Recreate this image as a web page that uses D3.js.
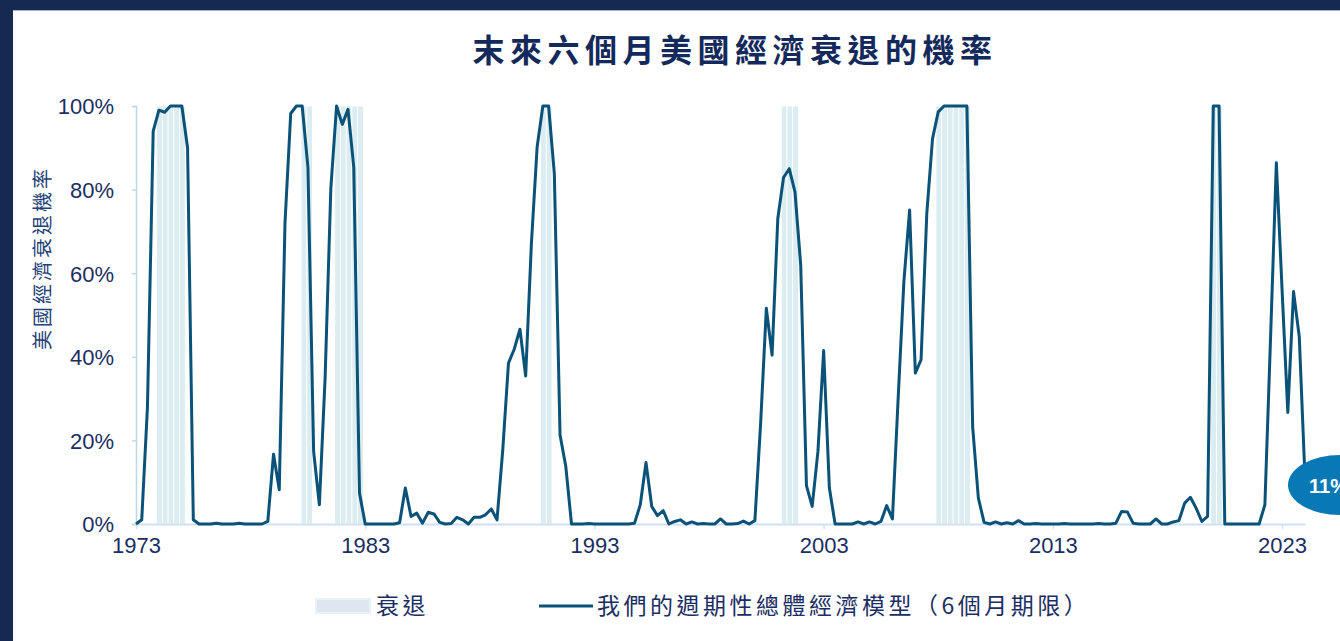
<!DOCTYPE html>
<html>
<head>
<meta charset="utf-8">
<script src="https://cdn.jsdelivr.net/npm/d3@7"></script>
<style>
  html, body { margin: 0; padding: 0; background: #142a53; }
  #chart { width: 1340px; height: 641px; }
  text { font-family: "Liberation Sans", Arial, "Noto Sans CJK TC", sans-serif; }
  .cjk { font-family: "Noto Sans CJK TC", "Noto Sans CJK SC", sans-serif; }
</style>
</head>
<body>
<div id="chart"></div>
<script>
// quarterly model readings, 1973Q1 .. 2024Q1 (percent)
const startYear = 1973;
const probValues = [
  0, 1, 28, 94, 99, 98.5, 100, 100, 100, 90, 1, 0,
  0, 0, 0.2, 0, 0, 0, 0.2, 0, 0, 0, 0, 0.6,
  16.7, 8.2, 72, 98.2, 100, 100, 85.4, 17.3, 4.6, 34.9, 80.3, 100,
  95.6, 99.2, 85.4, 7.4, 0, 0, 0, 0, 0, 0, 0.3, 8.6,
  1.8, 2.6, 0.2, 2.8, 2.4, 0.4, 0, 0.1, 1.6, 1.0, 0, 1.6,
  1.6, 2.2, 3.6, 1.0, 17.7, 38.5, 41.8, 46.6, 35.4, 67.1, 90.2, 100,
  100, 83.9, 21.3, 13.8, 0, 0, 0, 0.1, 0, 0, 0, 0,
  0, 0, 0, 0.2, 4.6, 14.7, 4.2, 2.0, 3.2, 0, 0.6, 1,
  0, 0.5, 0, 0.1, 0, 0, 1.2, 0, 0, 0.1, 0.7, 0,
  0.8, 24, 51.6, 40.4, 73.1, 82.9, 85.0, 79.4, 61.9, 9.2, 4.2, 17.3,
  41.5, 8.6, 0, 0, 0, 0, 0.5, 0, 0.5, 0, 0.6, 4.4,
  1.2, 30, 58, 75.1, 36.1, 39.3, 74.3, 92.2, 98.6, 100, 100, 100,
  100, 100, 23.3, 6.2, 0.4, 0, 0.5, 0, 0.3, 0, 0.8, 0,
  0, 0.1, 0, 0, 0, 0, 0.1, 0, 0, 0, 0, 0,
  0.1, 0, 0, 0.2, 3.0, 2.9, 0.2, 0, 0, 0, 1.2, 0,
  0, 0.5, 0.8, 5.0, 6.4, 3.8, 0.6, 1.8, 100, 100, 0, 0,
  0, 0, 0, 0, 0, 4.6, 45, 86.4, 56, 26.7, 55.6, 44.8,
  11
];

// recession shading: start (decimal year) and number of quarter stripes
const recessionStarts = [1973.9, 1980.2, 1981.67, 1990.65, 2001.15, 2007.9, 2019.89];
const recessionQuarters = [5, 2, 5, 2, 3, 6, 2];

const yTicks = [0, 20, 40, 60, 80, 100];
const xTicks = [1973, 1983, 1993, 2003, 2013, 2023];

const titleText = '末來六個月美國經濟衰退的機率';
const yTitle = '美國經濟衰退機率';
const legendRecession = '衰退';
const legendModel = '我們的週期性總體經濟模型（6個月期限）';
const lastLabel = '11%';

document.addEventListener('DOMContentLoaded', () => {
    const width = 1340, height = 641;
    const navy = '#1b2e63';
    const lineColor = '#0b5279';

    const svg = d3.select('#chart').append('svg')
        .attr('width', width)
        .attr('height', height);

    // frame
    svg.append('rect').attr('width', width).attr('height', height).attr('fill', '#142a53');
    svg.append('rect').attr('x', 13).attr('y', 10).attr('width', width - 13).attr('height', height - 10).attr('fill', '#ffffff');
    svg.append('line').attr('x1', 13).attr('x2', width).attr('y1', 10.5).attr('y2', 10.5)
        .attr('stroke', '#a9b1c2').attr('stroke-width', 1);

    const x = d3.scaleLinear().domain([1973, 2024]).range([136, 1305]);
    const y = d3.scaleLinear().domain([0, 100]).range([524, 106]);

    const data = probValues.map((v, i) => ({ date: startYear + i / 4, value: v }));

    // recession stripes
    const stripes = [];
    recessionStarts.forEach((s, k) => {
        for (let q = 0; q < recessionQuarters[k]; q++) {
            stripes.push({ start: s + q / 4, end: s + (q + 1) / 4 });
        }
    });

    svg.append('g')
        .selectAll('rect')
        .data(stripes)
        .join('rect')
        .attr('x', d => x(d.start))
        .attr('y', y(100))
        .attr('width', d => x(d.end) - x(d.start))
        .attr('height', y(0) - y(100))
        .attr('fill', '#dcedf1')
        .attr('stroke', '#ffffff')
        .attr('stroke-width', 0.8);

    // y axis
    const yAxis = svg.append('g')
        .attr('transform', `translate(${x(1973)},0)`)
        .call(d3.axisLeft(y).tickValues(yTicks).tickFormat(d => d + '%').tickSize(4).tickPadding(18));
    yAxis.select('.domain').attr('stroke', '#bcd9e6').attr('stroke-width', 1.5);
    yAxis.selectAll('.tick line').attr('stroke', '#bcd9e6').attr('stroke-width', 1.5);
    yAxis.selectAll('.tick text')
        .attr('fill', navy)
        .style('font-size', '22px')
        .attr('dy', '0.36em');

    // x axis
    const xAxis = svg.append('g')
        .attr('transform', `translate(0,${y(0)})`)
        .call(d3.axisBottom(x).tickValues(xTicks).tickFormat(d3.format('d')).tickSize(5).tickSizeOuter(0).tickPadding(8));
    xAxis.select('.domain').attr('stroke', '#cfe0f6').attr('stroke-width', 2);
    xAxis.selectAll('.tick line').attr('stroke', '#cfe0f6').attr('stroke-width', 1.5);
    xAxis.selectAll('.tick text')
        .attr('fill', navy)
        .style('font-size', '22px');

    // model line
    const line = d3.line()
        .x(d => x(d.date))
        .y(d => y(d.value));

    svg.append('path')
        .datum(data)
        .attr('d', line)
        .attr('fill', 'none')
        .attr('stroke', lineColor)
        .attr('stroke-width', 3)
        .attr('stroke-linejoin', 'round');

    // last value bubble (runs off the right edge, as in the source)
    const last = data[data.length - 1];
    svg.append('ellipse')
        .attr('cx', x(last.date) + 35)
        .attr('cy', y(last.value) + 7)
        .attr('rx', 52)
        .attr('ry', 30)
        .attr('fill', '#0879b4');
    svg.append('text')
        .attr('x', x(last.date) + 4)
        .attr('y', y(last.value) + 15)
        .attr('fill', '#ffffff')
        .style('font-size', '20px')
        .style('font-weight', 'bold')
        .text(lastLabel);

    // title
    svg.append('text')
        .attr('class', 'cjk')
        .attr('x', 735)
        .attr('y', 62)
        .attr('text-anchor', 'middle')
        .attr('fill', '#13295b')
        .style('font-size', '32px')
        .style('font-weight', 'bold')
        .style('letter-spacing', '5.5px')
        .text(titleText);

    // y title
    svg.append('text')
        .attr('class', 'cjk')
        .attr('transform', 'translate(50,258) rotate(-90)')
        .attr('text-anchor', 'middle')
        .attr('fill', '#253f78')
        .style('font-size', '20px')
        .style('letter-spacing', '3px')
        .text(yTitle);

    // legend
    const legend = svg.append('g');
    legend.append('rect')
        .attr('x', 316).attr('y', 599).attr('width', 54).attr('height', 14)
        .attr('fill', '#dfe6f0').attr('stroke', '#e9f2f5').attr('stroke-width', 2);
    legend.append('text')
        .attr('class', 'cjk')
        .attr('x', 376).attr('y', 614)
        .attr('fill', navy)
        .style('font-size', '23px')
        .style('letter-spacing', '3.5px')
        .text(legendRecession);
    legend.append('line')
        .attr('x1', 539).attr('x2', 593).attr('y1', 606).attr('y2', 606)
        .attr('stroke', lineColor).attr('stroke-width', 3);
    legend.append('text')
        .attr('class', 'cjk')
        .attr('x', 597).attr('y', 614)
        .attr('fill', navy)
        .style('font-size', '23px')
        .style('letter-spacing', '3.5px')
        .text(legendModel);
});
</script>
</body>
</html>
